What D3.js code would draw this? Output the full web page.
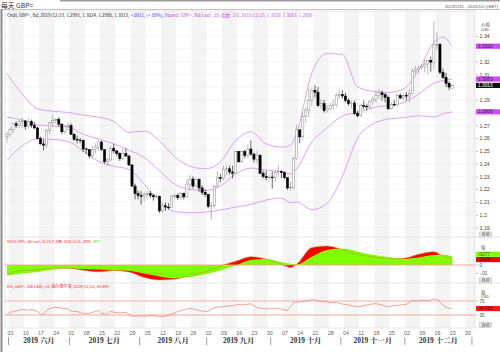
<!DOCTYPE html>
<html>
<head>
<meta charset="utf-8">
<script src="https://cdn.jsdelivr.net/npm/d3@7"></script>
<style>
body { margin: 0; background: #fff; }
svg { display: block; font-family: "Liberation Sans", Arial, "Noto Sans CJK SC", sans-serif; }
</style>
</head>
<body>
<div id="chart-area"></div>
<script>
/*
*    GBP= daily candles, Bollinger, MACD, RSI
*/

// daily candles from 2019-05-31 to 2019-12-23 (one per weekday)
var candleOpen = [1.2610,
  1.2628,1.2668,1.2712,1.2700,1.2728, 1.2735,1.2690,1.2730,1.2700,1.2680, 1.2597,1.2555,1.2545,1.2660,1.2720, 1.2740,1.2745,1.2710,1.2650,1.2690,
  1.2700,1.2630,1.2590,1.2585,1.2580, 1.2515,1.2510,1.2460,1.2510,1.2530, 1.2570,1.2510,1.2415,1.2430,1.2520, 1.2500,1.2480,1.2440,1.2480,1.2460, 1.2390,1.2225,1.2165,
  1.2150,1.2145, 1.2160,1.2165,1.2150,1.2140,1.2145, 1.2030,1.2070,1.2060,1.2055,1.2145, 1.2150,1.2135,1.2165,1.2140,1.2240, 1.2280,1.2225,1.2275,1.2210,1.2175,
  1.2160,1.2065,1.2070,1.2220,1.2290, 1.2285,1.2355,1.2360,1.2335,1.2325, 1.2495,1.2415,1.2495,1.2465,1.2515, 1.2475,1.2435,1.2465,1.2325,1.2300, 1.2290,
  1.2295,1.2290,1.2330,1.2340, 1.2330,1.2290,1.2210,1.2215,1.2440, 1.2665,1.2610,1.2770,1.2820,1.2895, 1.2975,1.2960,1.2855,1.2870,1.2815, 1.2830,1.2855,1.2860,1.2935,
  1.2940, 1.2930,1.2895,1.2870,1.2875,1.2795, 1.2775,1.2855,1.2850,1.2845,1.2890, 1.2905,1.2935,1.2955,1.2940,1.2920, 1.2830,1.2865,1.2860,1.2935,1.2915,
  1.2935,1.2930,1.2950,1.3125,1.3140, 1.3150,1.3160,1.3180,1.3210,1.3195, 1.3330,1.3335,1.3115,1.3075,1.3030, 1.2991];
var candleHigh = [1.2652,
  1.2685,1.2725,1.2730,1.2740,1.2763, 1.2740,1.2760,1.2745,1.2725,1.2690, 1.2610,1.2590,1.2670,1.2727,1.2784, 1.2760,1.2765,1.2715,1.2700,1.2720,
  1.2715,1.2640,1.2620,1.2600,1.2590, 1.2525,1.2515,1.2540,1.2560,1.2580, 1.2580,1.2515,1.2440,1.2540,1.2555, 1.2505,1.2490,1.2520,1.2520,1.2470, 1.2395,1.2245,1.2190,
  1.2185,1.2175, 1.2185,1.2185,1.2165,1.2165,1.2150, 1.2085,1.2095,1.2090,1.2155,1.2165, 1.2165,1.2175,1.2175,1.2275,1.2310, 1.2300,1.2290,1.2285,1.2230,1.2200,
  1.2165,1.2100,1.2235,1.2340,1.2320, 1.2385,1.2385,1.2385,1.2385,1.2500, 1.2500,1.2505,1.2510,1.2550,1.2582, 1.2485,1.2500,1.2475,1.2345,1.2345, 1.2315,
  1.2340,1.2345,1.2390,1.2350, 1.2340,1.2295,1.2255,1.2455,1.2705, 1.2670,1.2800,1.2840,1.2990,1.2990, 1.3013,1.3000,1.2905,1.2900,1.2860, 1.2875,1.2900,1.2955,1.2975,
  1.2975, 1.2955,1.2910,1.2890,1.2895,1.2815, 1.2870,1.2895,1.2870,1.2895,1.2925, 1.2965,1.2985,1.2975,1.2955,1.2935, 1.2885,1.2900,1.2950,1.2950,1.2950,
  1.2960,1.2985,1.3145,1.3165,1.3170, 1.3180,1.3215,1.3215,1.3240,1.3515, 1.3430,1.3345,1.3145,1.3110,1.3045, 1.3024];
var candleLow = [1.2560,
  1.2610,1.2640,1.2680,1.2680,1.2680, 1.2665,1.2675,1.2680,1.2670,1.2590, 1.2550,1.2505,1.2520,1.2630,1.2690, 1.2710,1.2690,1.2630,1.2630,1.2660,
  1.2625,1.2580,1.2560,1.2560,1.2490, 1.2475,1.2440,1.2440,1.2480,1.2500, 1.2500,1.2400,1.2382,1.2420,1.2480, 1.2460,1.2420,1.2430,1.2450,1.2380, 1.2215,1.2120,1.2120,
  1.2080,1.2105, 1.2125,1.2130,1.2110,1.2130,1.2015, 1.2015,1.2030,1.2040,1.2050,1.2125, 1.2115,1.2120,1.2120,1.2130,1.2190, 1.2205,1.2220,1.2180,1.2155,1.2140,
  1.2050,1.1959,1.2050,1.2215,1.2255, 1.2270,1.2310,1.2315,1.2285,1.2320, 1.2405,1.2405,1.2440,1.2445,1.2460, 1.2410,1.2405,1.2320,1.2285,1.2270, 1.2270,
  1.2205,1.2260,1.2300,1.2285, 1.2280,1.2195,1.2190,1.2200,1.2430, 1.2560,1.2595,1.2720,1.2765,1.2850, 1.2920,1.2845,1.2830,1.2800,1.2800, 1.2815,1.2820,1.2840,1.2905,
  1.2910, 1.2880,1.2855,1.2835,1.2780,1.2760, 1.2770,1.2825,1.2815,1.2825,1.2860, 1.2880,1.2905,1.2895,1.2880,1.2820, 1.2820,1.2845,1.2845,1.2905,1.2895,
  1.2895,1.2880,1.2945,1.3100,1.3110, 1.3135,1.3115,1.3100,1.3120,1.3135, 1.3290,1.3100,1.3065,1.3000,1.2975, 1.2986];
var candleClose = [1.2628,
  1.2668,1.2712,1.2700,1.2728,1.2735, 1.2690,1.2730,1.2700,1.2680,1.2597, 1.2555,1.2545,1.2660,1.2720,1.2740, 1.2745,1.2710,1.2650,1.2690,1.2700,
  1.2630,1.2590,1.2585,1.2580,1.2515, 1.2510,1.2460,1.2510,1.2530,1.2570, 1.2510,1.2415,1.2430,1.2520,1.2500, 1.2480,1.2440,1.2480,1.2460,1.2390, 1.2225,1.2165,1.2150,
  1.2145,1.2160, 1.2165,1.2150,1.2140,1.2145,1.2030, 1.2070,1.2060,1.2055,1.2145,1.2150, 1.2135,1.2165,1.2140,1.2240,1.2280, 1.2225,1.2275,1.2210,1.2175,1.2160,
  1.2065,1.2070,1.2220,1.2290,1.2285, 1.2355,1.2360,1.2335,1.2325,1.2495, 1.2415,1.2495,1.2465,1.2515,1.2475, 1.2435,1.2465,1.2325,1.2300,1.2290, 1.2295,
  1.2290,1.2330,1.2340,1.2330, 1.2290,1.2210,1.2215,1.2440,1.2665, 1.2610,1.2770,1.2820,1.2895,1.2975, 1.2960,1.2855,1.2870,1.2815,1.2830, 1.2855,1.2860,1.2935,1.2940,
  1.2930, 1.2895,1.2870,1.2875,1.2795,1.2775, 1.2855,1.2850,1.2845,1.2890,1.2905, 1.2935,1.2955,1.2940,1.2920,1.2830, 1.2865,1.2860,1.2935,1.2915,1.2935,
  1.2930,1.2950,1.3125,1.3140,1.3150, 1.3160,1.3180,1.3210,1.3195,1.3330, 1.3335,1.3115,1.3075,1.3030,1.3000, 1.3013];

// indicator readings, taken at these day numbers
var indIdx = [0,5,10,15,20,25,30,35,40,45,50,55,60,65,70,75,80,85,90,93,95,100,105,110,115,120,125,130,135,140,143,146];
var bbUpper = [1.3105,1.2945,1.2830,1.2810,1.2802,1.2780,1.2765,1.2730,1.2645,1.2655,1.2580,1.2455,1.2380,1.2360,1.2415,1.2580,1.2650,1.2555,1.2530,1.2545,1.2640,1.3110,1.3262,1.3255,1.3000,1.2967,1.2958,1.2985,1.3130,1.3350,1.3390,1.3320];
var bbMiddle = [1.2765,1.2743,1.2705,1.2695,1.2688,1.2630,1.2593,1.2555,1.2505,1.2448,1.2345,1.2240,1.2198,1.2190,1.2226,1.2320,1.2365,1.2350,1.2338,1.2320,1.2360,1.2570,1.2680,1.2775,1.2800,1.2838,1.2856,1.2878,1.2945,1.3030,1.3050,1.3063];
var bbLower = [1.2425,1.2540,1.2595,1.2590,1.2574,1.2500,1.2420,1.2380,1.2355,1.2240,1.2110,1.2025,1.2015,1.2020,1.2037,1.2060,1.2080,1.2115,1.2130,1.2095,1.2100,1.2040,1.2090,1.2300,1.2600,1.2710,1.2750,1.2760,1.2775,1.2765,1.2790,1.2806];
var macdLine = [-0.0110,-0.0065,-0.0058,-0.0040,-0.0038,-0.0062,-0.0082,-0.0065,-0.0085,-0.0150,-0.0180,-0.0172,-0.0120,-0.0082,-0.0012,0.0045,0.0100,0.0072,0.0010,-0.0030,0.0010,0.0210,0.0230,0.0185,0.0125,0.0100,0.0075,0.0080,0.0130,0.0160,0.0105,0.0075];
var macdSignal = [-0.0125,-0.0102,-0.0085,-0.0055,-0.0042,-0.0047,-0.0055,-0.0062,-0.0068,-0.0102,-0.0138,-0.0162,-0.0145,-0.0112,-0.0065,-0.0005,0.0060,0.0072,0.0035,0.0015,0.0008,0.0100,0.0180,0.0198,0.0160,0.0122,0.0095,0.0075,0.0090,0.0120,0.0122,0.0105];

var rsiIdx = [0,1,3,5,7,8,10,11,12,13,15,17,18,20,21,23,25,27,28,30,31,33,34,35,37,39,40,41,43,45,47,49,50,52,54,56,58,60,62,64,66,67,69,71,74,76,77,80,82,84,86,88,90,92,93,94,96,98,100,101,103,104,106,108,110,112,115,117,119,121,123,125,127,129,131,133,135,136,138,140,141,143,144,146];
var rsiValue = [30,37.7,41.4,46.2,43.3,46,40,32,32,44,51,52,49.5,47.6,41.4,40,34.3,35,37,43.3,34.3,32.4,41.4,37.6,35.7,37.6,32,26.2,27.1,26.2,28.1,27,24.3,27,32,40,45,49.5,45,41,40,47.6,52.9,54,56.7,60.5,58.6,62,51,47.6,47.6,49.5,46.7,42.9,54,66.2,68,70,73.8,72.9,68,70,65.3,66.2,61.4,58.6,53,56.7,60.5,62.4,58.6,53,56.7,58.6,60.5,72,70,72.9,70,75.7,75.7,58.6,51,48.5];

// axis labels
var priceTicks = [1.19,1.20,1.21,1.22,1.23,1.24,1.25,1.26,1.27,1.28,1.29,1.30,1.31,1.32,1.33,1.34];
var priceTickLabels = ["1.19","1.2","1.21","1.22","1.23","1.24","1.25","1.26","1.27","1.28","1.29","1.3","1.31","1.32","1.33","1.34"];
var weekTicks = ["2019-06-03","2019-06-10","2019-06-17","2019-06-24","2019-07-01","2019-07-08","2019-07-15","2019-07-22","2019-07-29","2019-08-05","2019-08-12","2019-08-19","2019-08-26","2019-09-02","2019-09-09","2019-09-16","2019-09-23","2019-09-30","2019-10-07","2019-10-14","2019-10-21","2019-10-28","2019-11-04","2019-11-11","2019-11-18","2019-11-25","2019-12-02","2019-12-09","2019-12-16","2019-12-23","2019-12-30"];
var monthStarts = ["2019-06-03","2019-07-01","2019-08-01","2019-09-02","2019-10-01","2019-11-01","2019-12-02","2020-01-01"];
var monthLabels = ["2019 六月","2019 七月","2019 八月","2019 九月","2019 十月","2019 十一月","2019 十二月"];

var width = 500;
var height = 352;
var plotLeft = 5, plotRight = 475;
var paneTop = 11, priceBottom = 237, macdBottom = 283, rsiBottom = 328;

var cjk = "'Noto Sans CJK SC', 'Liberation Sans', sans-serif";
var bandColor = "#d58af2";

var svg = d3.select('#chart-area')
    .append('svg')
        .attr('width', width)
        .attr('height', height);

// weekday calendar for the x axis
var days = d3.timeDay.range(new Date(2019, 4, 31), new Date(2020, 0, 3))
    .filter((d) => d.getDay() != 0 && d.getDay() != 6);
var fmt = d3.timeFormat("%Y-%m-%d");
var dayIndex = {};
days.forEach((d, i) => { dayIndex[fmt(d)] = i; });

var x = d3.scaleLinear().domain([-0.65, 153.5]).range([plotLeft, plotRight]);
var y = d3.scaleLinear().domain([1.19, 1.34]).range([227.5, 36]);
var yMacd = d3.scaleLinear().domain([-0.01, 0]).range([273.3, 265]);
var yRsi = d3.scaleLinear().domain([30, 70]).range([315, 301]);

// weekly background bands
weekTicks.forEach((w, k) => {
    if (k % 2 != 0) return;
    var i = dayIndex[w];
    var x0 = Math.max(plotLeft, x(i - 0.5));
    var x1 = Math.min(plotRight, x(i + 4.5));
    svg.append("rect")
        .attr("x", x0).attr("y", paneTop)
        .attr("width", x1 - x0).attr("height", rsiBottom - paneTop)
        .attr("fill", "#f4f4f4");
});

// price grid
svg.append("g").selectAll("line").data(priceTicks).enter().append("line")
    .attr("x1", plotLeft).attr("x2", plotRight)
    .attr("y1", (d) => y(d)).attr("y2", (d) => y(d))
    .attr("stroke", "#e9e9e9").attr("stroke-width", 0.5);

// frames
svg.append("rect")
    .attr("x", plotLeft).attr("y", paneTop)
    .attr("width", plotRight - plotLeft).attr("height", rsiBottom - paneTop)
    .attr("fill", "none").attr("stroke", "#d6d6d6").attr("stroke-width", 0.6);
[priceBottom, macdBottom].forEach((yy) => {
    svg.append("line").attr("x1", plotLeft).attr("x2", width)
        .attr("y1", yy).attr("y2", yy)
        .attr("stroke", "#d6d6d6").attr("stroke-width", 0.6);
});
svg.append("line").attr("x1", 60).attr("x2", width).attr("y1", 0.7).attr("y2", 0.7)
    .attr("stroke", "#9a9a9a").attr("stroke-width", 1.4);
svg.append("line").attr("x1", 1).attr("x2", width).attr("y1", 9.5).attr("y2", 9.5)
    .attr("stroke", "#b4b4b4").attr("stroke-width", 0.8);
svg.append("line").attr("x1", 1.5).attr("x2", 1.5).attr("y1", 9).attr("y2", height)
    .attr("stroke", "#8c8c8c").attr("stroke-width", 2);

// titles
svg.append("text").attr("x", 1).attr("y", 7.5)
    .attr("font-size", "6.8px").attr("font-family", cjk).attr("fill", "#333")
    .text("每天 GBP=");
svg.append("text").attr("x", 498).attr("y", 8).attr("text-anchor", "end")
    .attr("font-size", "4.3px").attr("fill", "#555")
    .text("2019/5/31 - 2020/1/2 (GMT)");

function fitText(sel, target) {
    var len = sel.node().getComputedTextLength();
    var fs = parseFloat(sel.attr("font-size"));
    sel.attr("font-size", (fs * target / len) + "px");
}

var head = svg.append("text").attr("x", 7).attr("y", 16.5)
    .attr("font-size", "4.4px").attr("font-family", cjk);
head.append("tspan").attr("fill", "#222")
    .text("Cndl, GBP=, Bd, 2019/12/23, 1.2991, 1.3024, 1.2986, 1.3013, ");
head.append("tspan").attr("fill", "#3a3aff").text("+.0011, (+.08%), ");
head.append("tspan").attr("fill", "#c04ee8")
    .text("Bband, GBP=, Bd(Last), 20, 指数, 2.0, 2019/12/23, 1.3320, 1.3063, 1.2806");
fitText(head, 306);

// bollinger bands
[bbUpper, bbMiddle, bbLower].forEach((band) => {
    var line = d3.line()
        .x((d, i) => x(indIdx[i]))
        .y((d) => y(d))
        .curve(d3.curveMonotoneX);
    svg.append("path").attr("d", line(band))
        .attr("fill", "none").attr("stroke", bandColor).attr("stroke-width", 0.8);
});

// candles
var idx = d3.range(candleClose.length);
svg.append("g").selectAll("line").data(idx).enter().append("line")
    .attr("x1", (i) => x(i)).attr("x2", (i) => x(i))
    .attr("y1", (i) => y(candleHigh[i])).attr("y2", (i) => y(candleLow[i]))
    .attr("stroke", (i) => candleClose[i] >= candleOpen[i] ? "#8a8a8a" : "#000")
    .attr("stroke-width", 0.6);
svg.append("g").selectAll("rect").data(idx).enter().append("rect")
    .attr("x", (i) => x(i) - 1.1)
    .attr("y", (i) => y(Math.max(candleOpen[i], candleClose[i])))
    .attr("width", 2.2)
    .attr("height", (i) => Math.max(0.7, Math.abs(y(candleOpen[i]) - y(candleClose[i]))))
    .attr("fill", (i) => candleClose[i] >= candleOpen[i] ? "#fff" : "#000")
    .attr("stroke", (i) => candleClose[i] >= candleOpen[i] ? "#8a8a8a" : "#000")
    .attr("stroke-width", 0.5);

// price axis; the last-value boxes sit over some tick labels, those are left out
var lastValues = [bbUpper[bbUpper.length - 1], bbMiddle[bbMiddle.length - 1],
    candleClose[candleClose.length - 1], bbLower[bbLower.length - 1]];
var shownTicks = priceTicks.filter((t) => d3.min(lastValues, (v) => Math.abs(y(t) - y(v))) > 4);
var rightAxis = d3.axisRight(y).tickValues(shownTicks)
    .tickFormat((d) => priceTickLabels[priceTicks.indexOf(d)]).tickSize(2).tickPadding(1.5);
var ay = svg.append("g").attr("transform", "translate(476,0)").call(rightAxis);
ay.select(".domain").remove();
ay.selectAll("line").attr("stroke", "#777").attr("stroke-width", 0.5);
ay.selectAll("text").attr("font-size", "5.3px").attr("fill", "#444").attr("font-family", "Liberation Sans");

svg.append("text").attr("x", 481).attr("y", 25.5).attr("font-size", "4.4px")
    .attr("font-family", cjk).attr("fill", "#555").text("价格");
svg.append("text").attr("x", 481).attr("y", 30.5).attr("font-size", "4px")
    .attr("fill", "#555").text("USD");

function valueBox(yy, label, fill, color) {
    svg.append("rect").attr("x", 476).attr("y", yy - 2.6)
        .attr("width", 24).attr("height", 5.2).attr("fill", fill);
    svg.append("text").attr("x", 478).attr("y", yy + 1.6)
        .attr("font-size", "4.8px").attr("fill", color).text(label);
}
valueBox(y(lastValues[0]), "1.3320", "#cc4cf2", "#333");
valueBox(y(lastValues[1]), "1.3063", "#cc4cf2", "#333");
valueBox(y(lastValues[2]), "1.3013", "#111", "#fff");
valueBox(y(lastValues[3]), "1.2806", "#cc4cf2", "#333");

function autoBox(yy) {
    svg.append("rect").attr("x", 479.5).attr("y", yy - 2.6)
        .attr("width", 12).attr("height", 5.2)
        .attr("fill", "#e6e6e6").attr("stroke", "#aaa").attr("stroke-width", 0.4);
    svg.append("text").attr("x", 485.5).attr("y", yy + 1.5).attr("text-anchor", "middle")
        .attr("font-size", "4px").attr("font-family", cjk).attr("fill", "#444").text("自动");
}
autoBox(234.5);
autoBox(280.5);
autoBox(325);

// MACD pane
var mt = svg.append("text").attr("x", 7).attr("y", 242.5)
    .attr("font-size", "3.4px").attr("font-family", cjk);
mt.append("tspan").attr("fill", "#f03030")
    .text("MACD, GBP=, Bd(Last), 12, 26, 9, 指数, 2019/12/23, .0049, ");
mt.append("tspan").attr("fill", "#5ad000").text(".0077");
fitText(mt, 93);

var redArea = d3.area().x((d, i) => x(indIdx[i])).y0(yMacd(0)).y1((d) => yMacd(d))
    .curve(d3.curveMonotoneX);
svg.append("path").attr("d", redArea(macdLine)).attr("fill", "#ff0000");
svg.append("path").attr("d", redArea(macdSignal)).attr("fill", "#7fff00");
svg.append("line").attr("x1", plotLeft).attr("x2", plotRight)
    .attr("y1", yMacd(0)).attr("y2", yMacd(0))
    .attr("stroke", "#f4a08c").attr("stroke-width", 0.9);
var macdPath = d3.line().x((d, i) => x(indIdx[i])).y((d) => yMacd(d)).curve(d3.curveMonotoneX);
svg.append("path").attr("d", macdPath(macdLine))
    .attr("fill", "none").attr("stroke", "#d8893a").attr("stroke-width", 0.6);

svg.append("text").attr("x", 481).attr("y", 248.5).attr("font-size", "4.4px")
    .attr("font-family", cjk).attr("fill", "#555").text("值");
[[0, "0"], [-0.01, "-.01"]].forEach((t) => {
    svg.append("line").attr("x1", 476).attr("x2", 478)
        .attr("y1", yMacd(t[0])).attr("y2", yMacd(t[0])).attr("stroke", "#777").attr("stroke-width", 0.5);
    svg.append("text").attr("x", 479.5).attr("y", yMacd(t[0]) + 1.7)
        .attr("font-size", "4.6px").attr("fill", "#444").text(t[1]);
});
valueBox(254.2, ".0077", "#7fff00", "#555");
valueBox(259.6, ".0049", "#ff0000", "#222");

// RSI pane
var rt = svg.append("text").attr("x", 7).attr("y", 288)
    .attr("font-size", "3.6px").attr("font-family", cjk).attr("fill", "#f03030")
    .text("RSI, GBP=, Bd(Last), 14, 威尔德平滑, 2019/12/23, 48.495");
fitText(rt, 102);

[70, 30].forEach((lv) => {
    svg.append("line").attr("x1", plotLeft).attr("x2", plotRight)
        .attr("y1", yRsi(lv)).attr("y2", yRsi(lv))
        .attr("stroke", "#f6a898").attr("stroke-width", lv == 30 ? 1.2 : 0.9);
});
var rsiLine = d3.line().x((d, i) => x(rsiIdx[i])).y((d) => yRsi(d));
svg.append("path").attr("d", rsiLine(rsiValue))
    .attr("fill", "none").attr("stroke", "#f07a68").attr("stroke-width", 0.7);

svg.append("text").attr("x", 481).attr("y", 293.5).attr("font-size", "4.4px")
    .attr("font-family", cjk).attr("fill", "#555").text("值");
svg.append("text").attr("x", 481).attr("y", 298.3).attr("font-size", "4px")
    .attr("fill", "#555").text("USD");
[[70, "70"], [30, "30"]].forEach((t) => {
    svg.append("line").attr("x1", 476).attr("x2", 478)
        .attr("y1", yRsi(t[0])).attr("y2", yRsi(t[0])).attr("stroke", "#777").attr("stroke-width", 0.5);
    svg.append("text").attr("x", 479.5).attr("y", yRsi(t[0]) + 1.7)
        .attr("font-size", "4.6px").attr("fill", "#444").text(t[1]);
});
valueBox(yRsi(rsiValue[rsiValue.length - 1]), "48.495", "#ff1a1a", "#222");

// bottom axis: weeks and months
var bottomAxis = d3.axisBottom(x)
    .tickValues(weekTicks.map((w) => dayIndex[w]))
    .tickFormat((i) => d3.timeFormat("%d")(days[i]))
    .tickSize(0).tickPadding(3);
var ax = svg.append("g").attr("transform", "translate(0," + (rsiBottom + 0.5) + ")").call(bottomAxis);
ax.select(".domain").remove();
ax.selectAll("text").attr("font-size", "5.4px").attr("fill", "#666").attr("font-family", "Liberation Sans");

monthLabels.forEach((m, k) => {
    var a = x(dayIndex[monthStarts[k]] - 0.5);
    var b = x(dayIndex[monthStarts[k + 1]] - 0.5);
    svg.append("line").attr("x1", a).attr("x2", a).attr("y1", 337).attr("y2", 345)
        .attr("stroke", "#777").attr("stroke-width", 0.7);
    svg.append("text").attr("x", (a + b) / 2).attr("y", 343.3).attr("text-anchor", "middle")
        .attr("font-size", "7.4px").attr("font-weight", "bold").attr("fill", "#333")
        .attr("font-family", "'Liberation Serif', 'Noto Serif CJK SC', 'Noto Sans CJK SC', serif")
        .text(m);
    if (k == monthLabels.length - 1) {
        svg.append("line").attr("x1", b).attr("x2", b).attr("y1", 337).attr("y2", 345)
            .attr("stroke", "#777").attr("stroke-width", 0.7);
    }
});
</script>
</body>
</html>
